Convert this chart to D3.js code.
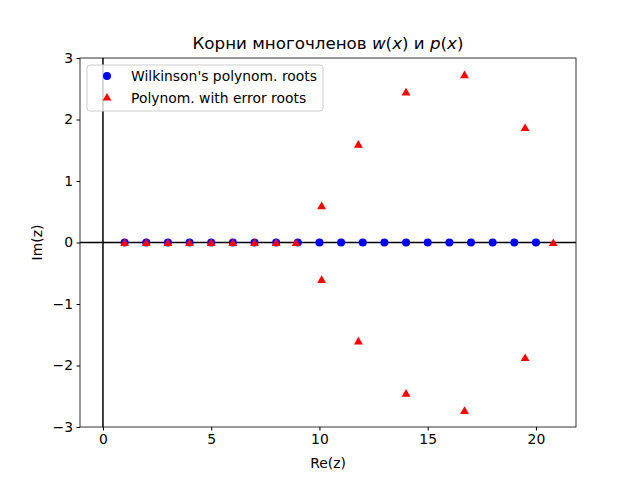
<!DOCTYPE html>
<html><head><meta charset="utf-8">
<script src="https://cdn.jsdelivr.net/npm/d3@7"></script>
<style>body{margin:0;background:#fff}text{font-family:"DejaVu Sans",sans-serif}</style>
</head><body>
<svg id="c" width="640" height="480"></svg>
<script>
// exact roots 1..20
const exactRe = d3.range(1, 21);
// perturbed polynomial roots
const errRe = [1, 2, 3, 4, 5, 6, 7, 8, 8.92, 10.1, 10.1, 11.8, 11.8, 14.0, 14.0, 16.7, 16.7, 19.5, 19.5, 20.8];
const errIm = [0, 0, 0, 0, 0, 0, 0, 0, 0, 0.6, -0.6, 1.6, -1.6, 2.45, -2.45, 2.73, -2.73, 1.87, -1.87, 0];
const xTicks = [0, 5, 10, 15, 20];
const yTicks = [-3, -2, -1, 0, 1, 2, 3];

const svg = d3.select("#c");
const L = 80, R = 576, T = 58, B = 427;
const x = d3.scaleLinear().domain([-1.06, 21.85]).range([L, R]);
const y = d3.scaleLinear().domain([-3, 3]).range([B, T]);

const g = svg.append("g");
g.append("line").attr("x1", x(0)).attr("x2", x(0)).attr("y1", T).attr("y2", B).attr("stroke", "#000").attr("stroke-width", 1.5);
g.append("line").attr("x1", L).attr("x2", R).attr("y1", y(0)).attr("y2", y(0)).attr("stroke", "#000").attr("stroke-width", 1.5);

g.selectAll("circle.ex").data(exactRe).join("circle").attr("class", "ex")
  .attr("cx", d => x(d)).attr("cy", y(0)).attr("r", 4).attr("fill", "blue");

const tri = d3.symbol().type(d3.symbolTriangle).size(34);
g.selectAll("path.er").data(errRe).join("path").attr("class", "er")
  .attr("d", tri).attr("fill", "red")
  .attr("transform", (d, i) => `translate(${x(d)},${y(errIm[i]) + 1})`);

svg.append("g").attr("transform", `translate(0,${B})`)
  .call(d3.axisBottom(x).tickValues(xTicks).tickSize(3.5).tickPadding(3.5))
  .call(a => a.selectAll("text").attr("font-size", 13.9).attr("fill", "#000"));
svg.append("g").attr("transform", `translate(${L},0)`)
  .call(d3.axisLeft(y).tickValues(yTicks).tickSize(3.5).tickPadding(3.5).tickFormat(d => d < 0 ? "\u2212" + (-d) : d))
  .call(a => a.selectAll("text").attr("font-size", 13.9).attr("fill", "#000"));
svg.selectAll(".domain").remove();
svg.append("rect").attr("x", L).attr("y", T).attr("width", R - L).attr("height", B - T)
  .attr("fill", "none").attr("stroke", "#000").attr("stroke-width", 0.8);

svg.append("text").attr("x", (L + R) / 2).attr("y", 49).attr("text-anchor", "middle").attr("font-size", 16.7)
  .html('Корни многочленов <tspan font-style="italic">w</tspan>(<tspan font-style="italic">x</tspan>) и <tspan font-style="italic">p</tspan>(<tspan font-style="italic">x</tspan>)');
svg.append("text").attr("x", (L + R) / 2).attr("y", 468).attr("text-anchor", "middle").attr("font-size", 13.9).text("Re(z)");
svg.append("text").attr("transform", `translate(42,${(T + B) / 2}) rotate(-90)`).attr("text-anchor", "middle").attr("font-size", 13.9).text("Im(z)");

const lg = svg.append("g").attr("transform", "translate(87,65)");
lg.append("rect").attr("width", 236).attr("height", 46).attr("rx", 3).attr("fill", "#fff").attr("fill-opacity", 0.8).attr("stroke", "#ccc");
lg.append("circle").attr("cx", 20).attr("cy", 11).attr("r", 4).attr("fill", "blue");
lg.append("path").attr("d", tri).attr("fill", "red").attr("transform", "translate(20,33)");
lg.append("text").attr("x", 44).attr("y", 16).attr("font-size", 13.9).text("Wilkinson's polynom. roots");
lg.append("text").attr("x", 44).attr("y", 38).attr("font-size", 13.9).text("Polynom. with error roots");
</script>
</body></html>
